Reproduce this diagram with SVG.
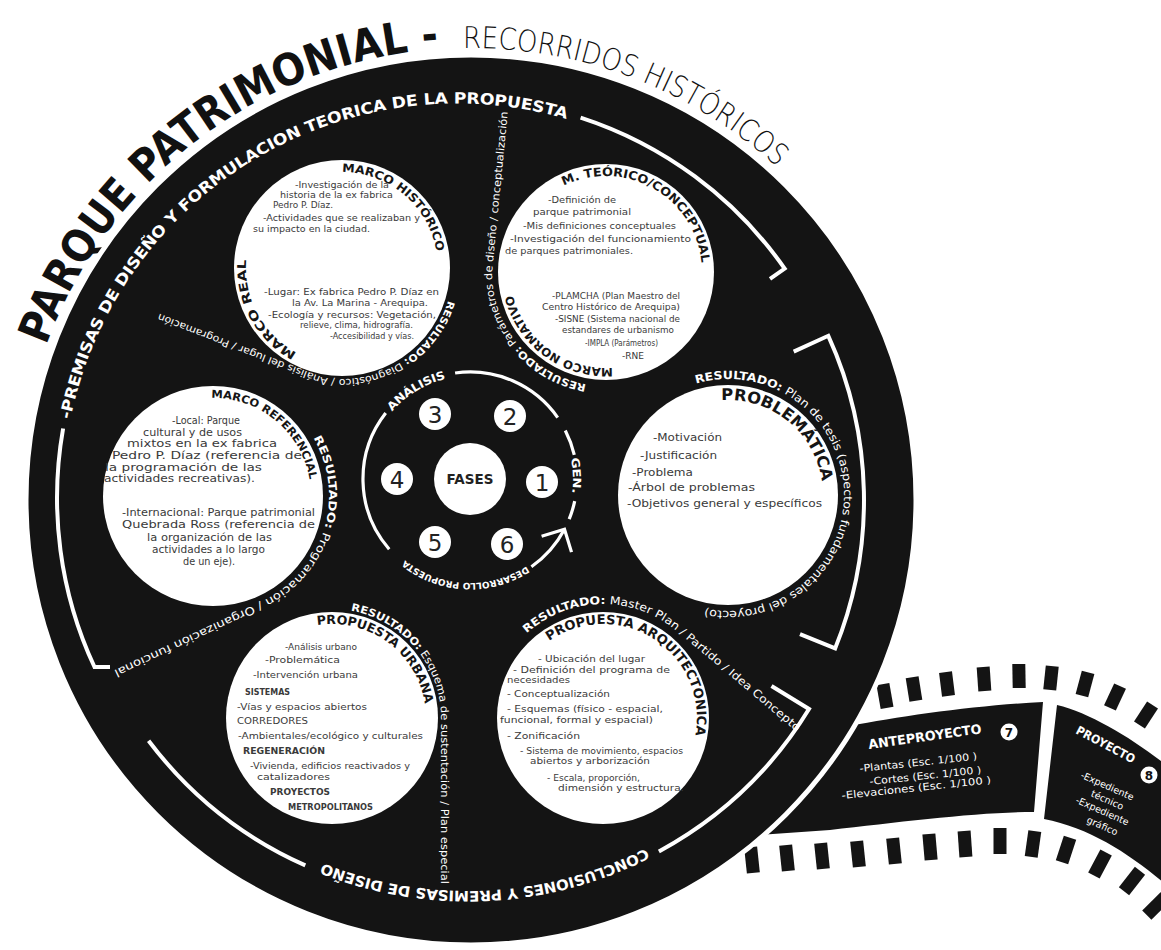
<svg xmlns="http://www.w3.org/2000/svg" width="1161" height="950" viewBox="0 0 1161 950">
<style>
text{font-family:'DejaVu Sans','Liberation Sans',sans-serif}
.bd{fill:#3a3a3a}
.lb{font-weight:bold;fill:#151515}
.w{fill:#fff}
.wb{fill:#fff;font-weight:bold}
.ring{fill:none;stroke:#fff;stroke-width:4}
.iring{fill:none;stroke:#fff;stroke-width:3.2}
.perf{fill:#141414}
.disc{fill:#fff}
.num{font-size:23px;fill:#222;text-anchor:middle}
</style>
<defs>
<path id="tpTitle" d="M 46.3,345.4 A 452 452 0 0 1 443.4,48.8"/>
<path id="tpRec" d="M 463.1,48.1 A 452 452 0 0 1 779.3,169.4"/>
<path id="tpPrem" d="M 65,418.3 A 400 400 0 0 1 574,115.5"/>
<path id="tpConc" d="M 647.8,852.8 A 396 396 0 0 1 316.5,865.9"/>
<path id="lMH" d="M 342,172 A 96 96 0 0 1 437.6,259.6"/>
<path id="lMR" d="M 296.9,352.8 A 96 96 0 0 1 248.1,248"/>
<path id="lMT" d="M 563.9,185.7 A 96 96 0 0 1 701.9,275.4"/>
<path id="lMN" d="M 612.7,367.8 A 96 96 0 0 1 510.1,275.4"/>
<path id="lMRef" d="M 211.3,398 A 98 98 0 0 1 310.8,489.2"/>
<path id="lProb" d="M 721.4,400.2 A 95 95 0 0 1 823,495"/>
<path id="lPA" d="M 549.1,641 A 94 94 0 0 1 692.4,747"/>
<path id="lPU" d="M 317.3,625.2 A 94 94 0 0 1 425.9,714.7"/>
<path id="rMH" d="M 448.1,300.5 A 111 111 0 0 1 322.7,377.3 L 150,310"/>
<path id="rMN" d="M 586.2,384.3 A 114 114 0 0 1 492,272 L 509,100"/>
<path id="rMRef" d="M 313.5,438 A 116 116 0 0 1 262,601.1 L 106.2,673.9"/>
<path id="rPU" d="M 350.9,610.7 A 109 109 0 0 1 441,718 L 441,888"/>
<path id="rPA" d="M 526.7,633.3 A 114 114 0 0 1 676.3,630.7 L 800.4,734.9"/>
<path id="rProb" d="M 696,383.5 A 116 116 0 1 1 698,607"/>
<path id="fAn" d="M 389.2,408.8 A 107 107 0 0 1 451.4,373.6"/>
<path id="fGen" d="M 574.9,457.7 A 107 107 0 0 1 575.4,497.6"/>
<path id="fDes" d="M 526.6,566.2 A 104 104 0 0 1 403.1,558.7"/>
</defs>
<rect width="1161" height="950" fill="#fff"/>

<g id="title">
<text font-size="44" font-weight="bold" fill="#111"><textPath href="#tpTitle" textLength="520" lengthAdjust="spacingAndGlyphs">PARQUE PATRIMONIAL -</textPath></text>
<text font-size="30" font-weight="200" fill="#111"><textPath href="#tpRec" textLength="344" lengthAdjust="spacingAndGlyphs">RECORRIDOS HISTÓRICOS</textPath></text>
</g>

<g id="film-strip">
<g class="perf">
<rect x="-6.5" y="-12" width="13" height="24" transform="translate(885,696) rotate(-10)"/>
<rect x="-6.5" y="-12" width="13" height="24" transform="translate(914,689) rotate(-9)"/>
<rect x="-6.5" y="-12" width="13" height="24" transform="translate(947,684) rotate(-7)"/>
<rect x="-6.5" y="-12" width="13" height="24" transform="translate(984,679) rotate(-4)"/>
<rect x="-6.5" y="-12" width="13" height="24" transform="translate(1019,676) rotate(-1)"/>
<rect x="-6.5" y="-12" width="13" height="24" transform="translate(1051,678) rotate(6)"/>
<rect x="-6.5" y="-12" width="13" height="24" transform="translate(1085,684) rotate(15)"/>
<rect x="-6.5" y="-12" width="13" height="24" transform="translate(1115,697) rotate(25)"/>
<rect x="-6.5" y="-12" width="13" height="24" transform="translate(1146,715) rotate(33)"/>
<rect x="-6.5" y="-13" width="13" height="26" transform="translate(752,860) rotate(-6)"/>
<rect x="-6.5" y="-13" width="13" height="26" transform="translate(787,858) rotate(-6)"/>
<rect x="-6.5" y="-13" width="13" height="26" transform="translate(822,856) rotate(-6)"/>
<rect x="-6.5" y="-13" width="13" height="26" transform="translate(858,854) rotate(-6)"/>
<rect x="-6.5" y="-13" width="13" height="26" transform="translate(894,851) rotate(-6)"/>
<rect x="-6.5" y="-13" width="13" height="26" transform="translate(930,847) rotate(-5)"/>
<rect x="-6.5" y="-13" width="13" height="26" transform="translate(965,844) rotate(-4)"/>
<rect x="-6.5" y="-13" width="13" height="26" transform="translate(1000,841) rotate(0)"/>
<rect x="-6.5" y="-13" width="13" height="26" transform="translate(1033,844) rotate(8)"/>
<rect x="-6.5" y="-13" width="13" height="26" transform="translate(1066,850) rotate(18)"/>
<rect x="-6.5" y="-13" width="13" height="26" transform="translate(1100,864) rotate(28)"/>
<rect x="-6.5" y="-13" width="13" height="26" transform="translate(1132,881) rotate(38)"/>
<rect x="-6.5" y="-13" width="13" height="26" transform="translate(1156,906) rotate(45)"/>
</g>
<path class="perf" d="M 760,760 L 850,726 C 900,716 980,705 1043,702 L 1034,812 C 980,812 900,822 830,830 L 760,835 Z"/>
<path class="perf" d="M 1057,705 C 1090,713 1130,737 1165,764 L 1165,884 C 1130,854 1090,828 1044,819 Z"/>
</g>

<g id="wheel">
<circle cx="471" cy="500" r="445" fill="#141414" stroke="#fff" stroke-width="5"/>
</g>

<g id="connectors">
<path class="ring" d="M 110,667 L 94.5,667 A 400 400 0 0 1 63.1,428.5"/>
<path class="ring" d="M 580.6,117.6 A 400 400 0 0 1 784.7,268.6 L 770,278.9"/>
<path class="ring" d="M 793.7,351.6 L 828.3,335.8 A 396 396 0 0 1 835.2,648.3 L 800,634.1"/>
<path class="ring" d="M 771.5,686 L 809,709 A 400 400 0 0 1 658.9,851.5"/>
<path class="ring" d="M 305.3,865.4 A 400 400 0 0 1 148.6,740.7"/>
<text class="wb" font-size="15.5" dy="5.5"><textPath href="#tpPrem" textLength="660" lengthAdjust="spacingAndGlyphs">-PREMISAS DE DISEÑO Y FORMULACION TEORICA DE LA PROPUESTA</textPath></text>
<text class="wb" font-size="14.5" dy="5"><textPath href="#tpConc" textLength="337" lengthAdjust="spacingAndGlyphs">CONCLUSIONES Y PREMISAS DE DISEÑO</textPath></text>
<text class="w" font-size="10"><textPath href="#rMH" textLength="336" lengthAdjust="spacingAndGlyphs"><tspan font-weight="bold">RESULTADO:</tspan> Diagnóstico / Análisis del lugar / Programación</textPath></text>
<text class="w" font-size="10.5"><textPath href="#rMN" textLength="320" lengthAdjust="spacingAndGlyphs"><tspan font-weight="bold">RESULTADO:</tspan> Parámetros de diseño / conceptualización</textPath></text>
<text class="w" font-size="11"><textPath href="#rMRef" textLength="356" lengthAdjust="spacingAndGlyphs"><tspan font-weight="bold">RESULTADO:</tspan> Programación / Organización funcional</textPath></text>
<text class="w" font-size="10.5"><textPath href="#rPU" textLength="318" lengthAdjust="spacingAndGlyphs"><tspan font-weight="bold">RESULTADO:</tspan> Esquema de sustentación / Plan especial</textPath></text>
<text class="w" font-size="11"><textPath href="#rPA" textLength="320" lengthAdjust="spacingAndGlyphs"><tspan font-weight="bold">RESULTADO:</tspan> Master Plan / Partido / Idea Concepto</textPath></text>
<text class="w" font-size="11.3"><textPath href="#rProb" textLength="420" lengthAdjust="spacingAndGlyphs"><tspan font-weight="bold">RESULTADO:</tspan> Plan de tesis (aspectos fundamentales del proyecto)</textPath></text>
</g>

<g id="marco-historico">
<circle class="disc" cx="342" cy="268" r="108"/>
<text class="lb" font-size="11.5"><textPath href="#lMH" textLength="134" lengthAdjust="spacingAndGlyphs">MARCO HISTÓRICO</textPath></text>
<text class="lb" font-size="12"><textPath href="#lMR" textLength="112" lengthAdjust="spacingAndGlyphs">MARCO REAL</textPath></text>
<g class="bd" font-size="8.6">
<text x="295" y="188" textLength="94" lengthAdjust="spacingAndGlyphs">-Investigación de la</text>
<text x="280" y="198" textLength="113" lengthAdjust="spacingAndGlyphs">historia de la ex fabrica</text>
<text x="273" y="208" textLength="60" lengthAdjust="spacingAndGlyphs">Pedro P. Díaz.</text>
<text x="263" y="221" textLength="157" lengthAdjust="spacingAndGlyphs">-Actividades que se realizaban y</text>
<text x="253" y="232" textLength="117" lengthAdjust="spacingAndGlyphs">su impacto en la ciudad.</text>
<text x="264" y="295" textLength="175" lengthAdjust="spacingAndGlyphs">-Lugar: Ex fabrica Pedro P. Díaz en</text>
<text x="292" y="306" textLength="136" lengthAdjust="spacingAndGlyphs">la Av. La Marina - Arequipa.</text>
<text x="268" y="318" textLength="168" lengthAdjust="spacingAndGlyphs">-Ecología y recursos: Vegetación,</text>
<text x="300" y="328" textLength="113" lengthAdjust="spacingAndGlyphs">relieve, clima, hidrografía.</text>
<text x="330" y="339" textLength="84" lengthAdjust="spacingAndGlyphs">-Accesibilidad y vías.</text>
</g>
</g>

<g id="marco-teorico">
<circle class="disc" cx="606" cy="272" r="108"/>
<text class="lb" font-size="12"><textPath href="#lMT" textLength="185" lengthAdjust="spacingAndGlyphs">M. TEÓRICO/CONCEPTUAL</textPath></text>
<text class="lb" font-size="11.5"><textPath href="#lMN" textLength="134" lengthAdjust="spacingAndGlyphs">MARCO NORMATIVO</textPath></text>
<g class="bd" font-size="9">
<text x="548" y="203" textLength="68" lengthAdjust="spacingAndGlyphs">-Definición de</text>
<text x="533" y="215" textLength="98" lengthAdjust="spacingAndGlyphs">parque patrimonial</text>
<text x="523" y="229" textLength="153" lengthAdjust="spacingAndGlyphs">-Mis definiciones conceptuales</text>
<text x="510" y="242" textLength="181" lengthAdjust="spacingAndGlyphs">-Investigación del funcionamiento</text>
<text x="505" y="254" textLength="128" lengthAdjust="spacingAndGlyphs">de parques patrimoniales.</text>
</g>
<g class="bd" font-size="8.3">
<text x="552" y="299" textLength="128" lengthAdjust="spacingAndGlyphs">-PLAMCHA (Plan Maestro del</text>
<text x="542" y="310" textLength="138" lengthAdjust="spacingAndGlyphs">Centro Histórico de Arequipa)</text>
<text x="555" y="322" textLength="125" lengthAdjust="spacingAndGlyphs">-SISNE (Sistema nacional de</text>
<text x="562" y="333" textLength="112" lengthAdjust="spacingAndGlyphs">estandares de urbanismo</text>
<text x="585" y="346" textLength="73" lengthAdjust="spacingAndGlyphs">-IMPLA (Parámetros)</text>
<text x="622" y="359" textLength="22" lengthAdjust="spacingAndGlyphs">-RNE</text>
</g>
</g>

<g id="marco-referencial">
<circle class="disc" cx="213" cy="496" r="110"/>
<text class="lb" font-size="11"><textPath href="#lMRef" textLength="139" lengthAdjust="spacingAndGlyphs">MARCO REFERENCIAL</textPath></text>
<g class="bd" font-size="10.5">
<text x="172" y="424" textLength="68" lengthAdjust="spacingAndGlyphs">-Local: Parque</text>
<text x="143" y="436" textLength="99" lengthAdjust="spacingAndGlyphs">cultural y de usos</text>
<text x="127" y="447" textLength="150" lengthAdjust="spacingAndGlyphs">mixtos en la ex fabrica</text>
<text x="112" y="459" textLength="190" lengthAdjust="spacingAndGlyphs">Pedro P. Díaz (referencia de</text>
<text x="105" y="471" textLength="157" lengthAdjust="spacingAndGlyphs">la programación de las</text>
<text x="104" y="482" textLength="151" lengthAdjust="spacingAndGlyphs">actividades recreativas).</text>
<text x="122" y="516" textLength="193" lengthAdjust="spacingAndGlyphs">-Internacional: Parque patrimonial</text>
<text x="122" y="528" textLength="193" lengthAdjust="spacingAndGlyphs">Quebrada Ross (referencia de</text>
<text x="147" y="541" textLength="125" lengthAdjust="spacingAndGlyphs">la organización de las</text>
<text x="152" y="553" textLength="113" lengthAdjust="spacingAndGlyphs">actividades a lo largo</text>
<text x="183" y="565" textLength="52" lengthAdjust="spacingAndGlyphs">de un eje).</text>
</g>
</g>

<g id="problematica">
<circle class="disc" cx="728" cy="495" r="110"/>
<text class="lb" font-size="16"><textPath href="#lProb" textLength="142" lengthAdjust="spacingAndGlyphs">PROBLEMÁTICA</textPath></text>
<g class="bd" font-size="11">
<text x="653" y="441" textLength="69" lengthAdjust="spacingAndGlyphs">-Motivación</text>
<text x="640" y="459" textLength="77" lengthAdjust="spacingAndGlyphs">-Justificación</text>
<text x="632" y="476" textLength="61" lengthAdjust="spacingAndGlyphs">-Problema</text>
<text x="628" y="491" textLength="127" lengthAdjust="spacingAndGlyphs">-Árbol de problemas</text>
<text x="627" y="507" textLength="195" lengthAdjust="spacingAndGlyphs">-Objetivos general y específicos</text>
</g>
</g>

<g id="propuesta-arquitectonica">
<circle class="disc" cx="603" cy="718" r="106"/>
<text class="lb" font-size="13"><textPath href="#lPA" textLength="222" lengthAdjust="spacingAndGlyphs">PROPUESTA ARQUITECTONICA</textPath></text>
<g class="bd" font-size="9">
<text x="538" y="662" textLength="107" lengthAdjust="spacingAndGlyphs">- Ubicación del lugar</text>
<text x="513" y="673" textLength="157" lengthAdjust="spacingAndGlyphs">- Definición del programa de</text>
<text x="507" y="683" textLength="63" lengthAdjust="spacingAndGlyphs">necesidades</text>
<text x="507" y="697" textLength="103" lengthAdjust="spacingAndGlyphs">- Conceptualización</text>
<text x="507" y="712" textLength="156" lengthAdjust="spacingAndGlyphs">- Esquemas (físico - espacial,</text>
<text x="500" y="723" textLength="153" lengthAdjust="spacingAndGlyphs">funcional, formal y espacial)</text>
<text x="507" y="739" textLength="73" lengthAdjust="spacingAndGlyphs">- Zonificación</text>
<text x="520" y="754" textLength="163" lengthAdjust="spacingAndGlyphs">- Sistema de movimiento, espacios</text>
<text x="530" y="764" textLength="120" lengthAdjust="spacingAndGlyphs">abiertos y arborización</text>
<text x="547" y="781" textLength="93" lengthAdjust="spacingAndGlyphs">- Escala, proporción,</text>
<text x="558" y="791" textLength="126" lengthAdjust="spacingAndGlyphs">dimensión y estructura.</text>
</g>
</g>

<g id="propuesta-urbana">
<circle class="disc" cx="332" cy="718" r="106"/>
<text class="lb" font-size="12.5"><textPath href="#lPU" textLength="148" lengthAdjust="spacingAndGlyphs">PROPUESTA URBANA</textPath></text>
<g class="bd" font-size="9">
<text x="285" y="650" textLength="72" lengthAdjust="spacingAndGlyphs">-Análisis urbano</text>
<text x="265" y="663" textLength="75" lengthAdjust="spacingAndGlyphs">-Problemática</text>
<text x="253" y="678" textLength="105" lengthAdjust="spacingAndGlyphs">-Intervención urbana</text>
<text x="245" y="695" textLength="45" lengthAdjust="spacingAndGlyphs" font-weight="bold">SISTEMAS</text>
<text x="237" y="710" textLength="130" lengthAdjust="spacingAndGlyphs">-Vías y espacios abiertos</text>
<text x="237" y="724" textLength="71" lengthAdjust="spacingAndGlyphs">CORREDORES</text>
<text x="238" y="739" textLength="185" lengthAdjust="spacingAndGlyphs">-Ambientales/ecológico y culturales</text>
<text x="243" y="754" textLength="82" lengthAdjust="spacingAndGlyphs" font-weight="bold">REGENERACIÓN</text>
<text x="250" y="769" textLength="160" lengthAdjust="spacingAndGlyphs">-Vivienda, edificios reactivados y</text>
<text x="257" y="780" textLength="73" lengthAdjust="spacingAndGlyphs">catalizadores</text>
<text x="270" y="795" textLength="60" lengthAdjust="spacingAndGlyphs" font-weight="bold">PROYECTOS</text>
<text x="288" y="810" textLength="85" lengthAdjust="spacingAndGlyphs" font-weight="bold">METROPOLITANOS</text>
</g>
</g>

<g id="fases">
<path class="iring" d="M 389.2,549.2 A 107 107 0 0 1 385.7,413.1"/>
<path class="iring" d="M 455.1,373 A 107 107 0 0 1 557.7,417.6"/>
<path class="iring" d="M 565.3,430.4 A 107 107 0 0 1 574.3,454.9"/>
<path class="iring" d="M 574.7,501.2 A 107 107 0 0 1 569.2,519.1"/>
<path class="iring" d="M 531.4,566.7 A 107 107 0 0 0 564.5,529.2"/>
<path class="iring" d="M 541.6,536.2 L 564.5,529.2 L 571.5,552.1"/>
<text class="wb" font-size="11.5" dy="4"><textPath href="#fAn" textLength="66" lengthAdjust="spacingAndGlyphs">ANÁLISIS</textPath></text>
<text class="wb" font-size="11" dy="4"><textPath href="#fGen" textLength="36" lengthAdjust="spacingAndGlyphs">GEN.</textPath></text>
<text class="wb" font-size="9"><textPath href="#fDes" textLength="130" lengthAdjust="spacingAndGlyphs">DESARROLLO PROPUESTA</textPath></text>
<circle class="disc" cx="470" cy="479" r="36"/>
<text x="470" y="484" font-size="13.5" font-weight="bold" fill="#222" text-anchor="middle">FASES</text>
<circle class="disc" cx="542" cy="482" r="16"/><text class="num" x="542" y="490.5">1</text>
<circle class="disc" cx="510" cy="416" r="16"/><text class="num" x="510" y="424.5">2</text>
<circle class="disc" cx="435" cy="414" r="16"/><text class="num" x="435" y="422.5">3</text>
<circle class="disc" cx="397" cy="479" r="16"/><text class="num" x="397" y="487.5">4</text>
<circle class="disc" cx="435" cy="542" r="16"/><text class="num" x="435" y="550.5">5</text>
<circle class="disc" cx="507" cy="544" r="16"/><text class="num" x="507" y="552.5">6</text>
</g>

<g id="anteproyecto">
<text class="wb" font-size="13" transform="translate(869,749) rotate(-8)" textLength="114" lengthAdjust="spacingAndGlyphs">ANTEPROYECTO</text>
<circle class="disc" cx="1009" cy="732" r="8.5"/>
<text x="1009" y="736.5" font-size="12" font-weight="bold" fill="#111" text-anchor="middle">7</text>
<g class="w" font-size="10">
<text transform="translate(860,772) rotate(-6)" textLength="118" lengthAdjust="spacingAndGlyphs">-Plantas (Esc. 1/100 )</text>
<text transform="translate(870,785) rotate(-6)" textLength="112" lengthAdjust="spacingAndGlyphs">-Cortes (Esc. 1/100 )</text>
<text transform="translate(842,799) rotate(-6)" textLength="150" lengthAdjust="spacingAndGlyphs">-Elevaciones (Esc. 1/100 )</text>
</g>
</g>

<g id="proyecto">
<text class="wb" font-size="12" transform="translate(1075,733) rotate(28)" textLength="65" lengthAdjust="spacingAndGlyphs">PROYECTO</text>
<circle class="disc" cx="1149" cy="775" r="8.5"/>
<text x="1149" y="779.5" font-size="12" font-weight="bold" fill="#111" text-anchor="middle">8</text>
<g class="w" font-size="9.5" text-anchor="middle">
<text transform="translate(1106,789) rotate(24)">-Expediente</text>
<text transform="translate(1106,803) rotate(24)">técnico</text>
<text transform="translate(1101,814) rotate(24)">-Expediente</text>
<text transform="translate(1101,829) rotate(24)">gráfico</text>
</g>
</g>
</svg>
